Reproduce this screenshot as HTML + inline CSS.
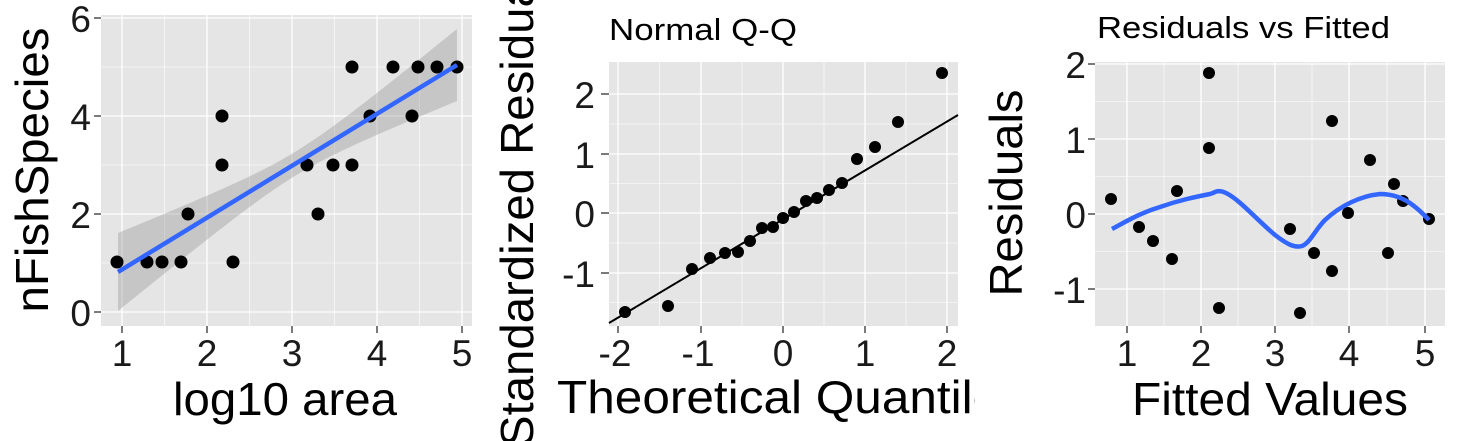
<!DOCTYPE html>
<html><head><meta charset="utf-8"><style>html,body{margin:0;padding:0;background:#fff;width:1459px;height:441px;overflow:hidden}svg{display:block}</style></head>
<body>
<svg width="1459" height="441" viewBox="0 0 1459 441" xmlns="http://www.w3.org/2000/svg" font-family="Liberation Sans, Arial, sans-serif" style="overflow:hidden">
<defs><clipPath id="c2"><rect x="488" y="0" width="487" height="441"/></clipPath>
<clipPath id="p1"><rect x="101" y="15" width="371" height="311"/></clipPath></defs>
<!-- Panel 1 -->
<rect x="101" y="15" width="371" height="311" fill="#e5e5e5"/>
<g stroke="#fff" stroke-width="0.6">
<line x1="101" x2="472" y1="263" y2="263"/><line x1="101" x2="472" y1="165" y2="165"/><line x1="101" x2="472" y1="67" y2="67"/>
<line y1="15" y2="326" x1="164.5" x2="164.5"/><line y1="15" y2="326" x1="249.5" x2="249.5"/><line y1="15" y2="326" x1="334.5" x2="334.5"/><line y1="15" y2="326" x1="419.5" x2="419.5"/>
</g>
<g stroke="#fff" stroke-width="1.3">
<line x1="101" x2="472" y1="312" y2="312"/><line x1="101" x2="472" y1="214" y2="214"/><line x1="101" x2="472" y1="116" y2="116"/><line x1="101" x2="472" y1="18" y2="18"/>
<line y1="15" y2="326" x1="122" x2="122"/><line y1="15" y2="326" x1="207" x2="207"/><line y1="15" y2="326" x1="292" x2="292"/><line y1="15" y2="326" x1="377" x2="377"/><line y1="15" y2="326" x1="462" x2="462"/>
</g>
<path id="rib" fill="#999" fill-opacity="0.4" clip-path="url(#p1)" d=""/>
<g fill="#000">
<circle cx="117" cy="262" r="6.5"/><circle cx="147" cy="262" r="6.5"/><circle cx="162" cy="262" r="6.5"/><circle cx="181" cy="262" r="6.5"/><circle cx="188" cy="214" r="6.5"/><circle cx="222" cy="116" r="6.5"/><circle cx="222" cy="165" r="6.5"/><circle cx="233" cy="262" r="6.5"/><circle cx="307" cy="165" r="6.5"/><circle cx="318" cy="214" r="6.5"/><circle cx="333" cy="165" r="6.5"/><circle cx="352" cy="67" r="6.5"/><circle cx="352" cy="165" r="6.5"/><circle cx="370" cy="116" r="6.5"/><circle cx="393" cy="67" r="6.5"/><circle cx="412" cy="116" r="6.5"/><circle cx="418" cy="67" r="6.5"/><circle cx="437" cy="67" r="6.5"/><circle cx="457" cy="67" r="6.5"/>
</g>
<line x1="118" y1="272" x2="457" y2="65" stroke="#3366ff" stroke-width="4.5"/>
<g stroke="#333" stroke-width="1.3">
<line x1="94" x2="101" y1="312" y2="312"/><line x1="94" x2="101" y1="214" y2="214"/><line x1="94" x2="101" y1="116" y2="116"/><line x1="94" x2="101" y1="18" y2="18"/>
<line y1="326" y2="333" x1="122" x2="122"/><line y1="326" y2="333" x1="207" x2="207"/><line y1="326" y2="333" x1="292" x2="292"/><line y1="326" y2="333" x1="377" x2="377"/><line y1="326" y2="333" x1="462" x2="462"/>
</g>
<g font-size="37" fill="#1a1a1a" text-anchor="end">
<text x="91" y="326">0</text><text x="91" y="228">2</text><text x="91" y="130">4</text><text x="91" y="32">6</text>
</g>
<g font-size="37" fill="#1a1a1a" text-anchor="middle">
<text x="122" y="366">1</text><text x="207" y="366">2</text><text x="292" y="366">3</text><text x="377" y="366">4</text><text x="462" y="366">5</text>
</g>
<text x="285" y="415" font-size="46" text-anchor="middle" textLength="224" lengthAdjust="spacingAndGlyphs">log10 area</text>
<text transform="translate(48,170) rotate(-90)" font-size="46" text-anchor="middle" textLength="285" lengthAdjust="spacingAndGlyphs">nFishSpecies</text>

<!-- Panel 2 -->
<g clip-path="url(#c2)">
<rect x="609" y="62" width="349" height="264" fill="#e5e5e5"/>
<g stroke="#fff" stroke-width="0.6">
<line x1="609" x2="958" y1="124" y2="124"/><line x1="609" x2="958" y1="183.5" y2="183.5"/><line x1="609" x2="958" y1="243" y2="243"/><line x1="609" x2="958" y1="302.5" y2="302.5"/>
<line y1="62" y2="326" x1="659.5" x2="659.5"/><line y1="62" y2="326" x1="742" x2="742"/><line y1="62" y2="326" x1="824" x2="824"/><line y1="62" y2="326" x1="906" x2="906"/>
</g>
<g stroke="#fff" stroke-width="1.3">
<line x1="609" x2="958" y1="94" y2="94"/><line x1="609" x2="958" y1="154" y2="154"/><line x1="609" x2="958" y1="213" y2="213"/><line x1="609" x2="958" y1="273" y2="273"/>
<line y1="62" y2="326" x1="618" x2="618"/><line y1="62" y2="326" x1="701" x2="701"/><line y1="62" y2="326" x1="783" x2="783"/><line y1="62" y2="326" x1="865" x2="865"/><line y1="62" y2="326" x1="947" x2="947"/>
</g>
<line x1="609" y1="323" x2="958" y2="115" stroke="#000" stroke-width="2"/>
<g fill="#000">
<circle cx="625" cy="312" r="6"/><circle cx="668" cy="306" r="6"/><circle cx="692" cy="269" r="6"/><circle cx="710" cy="258" r="6"/><circle cx="725" cy="253" r="6"/><circle cx="738" cy="252" r="6"/><circle cx="750" cy="241" r="6"/><circle cx="762" cy="228" r="6"/><circle cx="773" cy="227" r="6"/><circle cx="783" cy="218" r="6"/><circle cx="794" cy="212" r="6"/><circle cx="806" cy="201" r="6"/><circle cx="817" cy="198" r="6"/><circle cx="829" cy="190" r="6"/><circle cx="842" cy="183" r="6"/><circle cx="857" cy="159" r="6"/><circle cx="875" cy="147" r="6"/><circle cx="898" cy="122" r="6"/><circle cx="942" cy="73" r="6"/>
</g>
<g stroke="#333" stroke-width="1.3">
<line x1="601" x2="609" y1="94" y2="94"/><line x1="601" x2="609" y1="154" y2="154"/><line x1="601" x2="609" y1="213" y2="213"/><line x1="601" x2="609" y1="273" y2="273"/>
<line y1="326" y2="333" x1="618" x2="618"/><line y1="326" y2="333" x1="701" x2="701"/><line y1="326" y2="333" x1="783" x2="783"/><line y1="326" y2="333" x1="865" x2="865"/><line y1="326" y2="333" x1="947" x2="947"/>
</g>
<g font-size="37" fill="#1a1a1a" text-anchor="end">
<text x="595" y="108">2</text><text x="595" y="168">1</text><text x="595" y="227">0</text><text x="595" y="287">-1</text>
</g>
<g font-size="37" fill="#1a1a1a" text-anchor="middle">
<text x="615" y="366">-2</text><text x="698" y="366">-1</text><text x="783" y="366">0</text><text x="865" y="366">1</text><text x="947" y="366">2</text>
</g>
<text x="609" y="40" font-size="31" textLength="188" lengthAdjust="spacingAndGlyphs">Normal Q-Q</text>
<text x="557" y="413" font-size="46" textLength="468" lengthAdjust="spacingAndGlyphs">Theoretical Quantiles</text>
<text transform="translate(533,447) rotate(-90)" font-size="46" textLength="500" lengthAdjust="spacingAndGlyphs">Standardized Residuals</text>
</g>

<!-- Panel 3 -->
<rect x="1095" y="62" width="350" height="264" fill="#e5e5e5"/>
<g stroke="#fff" stroke-width="0.6">
<line x1="1095" x2="1445" y1="101.5" y2="101.5"/><line x1="1095" x2="1445" y1="176.5" y2="176.5"/><line x1="1095" x2="1445" y1="251.5" y2="251.5"/>
<line y1="62" y2="326" x1="1164" x2="1164"/><line y1="62" y2="326" x1="1238" x2="1238"/><line y1="62" y2="326" x1="1312" x2="1312"/><line y1="62" y2="326" x1="1387" x2="1387"/>
</g>
<g stroke="#fff" stroke-width="1.3">
<line x1="1095" x2="1445" y1="64" y2="64"/><line x1="1095" x2="1445" y1="139" y2="139"/><line x1="1095" x2="1445" y1="214" y2="214"/><line x1="1095" x2="1445" y1="289" y2="289"/>
<line y1="62" y2="326" x1="1127" x2="1127"/><line y1="62" y2="326" x1="1201" x2="1201"/><line y1="62" y2="326" x1="1275" x2="1275"/><line y1="62" y2="326" x1="1349" x2="1349"/><line y1="62" y2="326" x1="1425" x2="1425"/>
</g>
<g fill="#000">
<circle cx="1111" cy="199" r="6"/><circle cx="1139" cy="227" r="6"/><circle cx="1153" cy="241" r="6"/><circle cx="1172" cy="259" r="6"/><circle cx="1177" cy="191" r="6"/><circle cx="1209" cy="73" r="6"/><circle cx="1209" cy="148" r="6"/><circle cx="1219" cy="308" r="6"/><circle cx="1290" cy="229" r="6"/><circle cx="1300" cy="313" r="6"/><circle cx="1314" cy="253" r="6"/><circle cx="1332" cy="121" r="6"/><circle cx="1332" cy="271" r="6"/><circle cx="1348" cy="213" r="6"/><circle cx="1370" cy="160" r="6"/><circle cx="1388" cy="253" r="6"/><circle cx="1394" cy="184" r="6"/><circle cx="1403" cy="201" r="6"/><circle cx="1429" cy="219" r="6"/>
</g>
<path d="M1112,229 C1125,222 1140,213 1160,207 C1180,200 1195,197 1210,194 L1213,193 C1216,191 1220,190 1226,193 C1240,200 1255,218 1275,235 C1288,245 1295,248 1302,246 C1310,243 1315,230 1325,220 C1340,206 1360,196 1380,194 C1400,194 1413,203 1429,220" fill="none" stroke="#3366ff" stroke-width="4.5"/>
<g stroke="#333" stroke-width="1.3">
<line x1="1088" x2="1095" y1="64" y2="64"/><line x1="1088" x2="1095" y1="139" y2="139"/><line x1="1088" x2="1095" y1="214" y2="214"/><line x1="1088" x2="1095" y1="289" y2="289"/>
<line y1="326" y2="333" x1="1127" x2="1127"/><line y1="326" y2="333" x1="1201" x2="1201"/><line y1="326" y2="333" x1="1275" x2="1275"/><line y1="326" y2="333" x1="1349" x2="1349"/><line y1="326" y2="333" x1="1425" x2="1425"/>
</g>
<g font-size="37" fill="#1a1a1a" text-anchor="end">
<text x="1086" y="78">2</text><text x="1086" y="153">1</text><text x="1086" y="228">0</text><text x="1086" y="303">-1</text>
</g>
<g font-size="37" fill="#1a1a1a" text-anchor="middle">
<text x="1127" y="366">1</text><text x="1201" y="366">2</text><text x="1275" y="366">3</text><text x="1349" y="366">4</text><text x="1425" y="366">5</text>
</g>
<text x="1097" y="38" font-size="31" textLength="293" lengthAdjust="spacingAndGlyphs">Residuals vs Fitted</text>
<text x="1132" y="415" font-size="46" textLength="276" lengthAdjust="spacingAndGlyphs">Fitted Values</text>
<text transform="translate(1022,193) rotate(-90)" font-size="46" text-anchor="middle" textLength="207" lengthAdjust="spacingAndGlyphs">Residuals</text>
</svg>
<script>
(function(){var up=[],dn=[];for(var x=118;x<=457;x+=3){var y=272-0.6106*(x-118);var h=Math.sqrt(144+Math.pow(0.2097*(x-295),2));up.push(x+","+(y-h).toFixed(1));dn.unshift(x+","+(y+h).toFixed(1));}
document.getElementById("rib").setAttribute("d","M"+up.join(" L")+" L"+dn.join(" L")+"Z");})();
</script>
</body></html>
